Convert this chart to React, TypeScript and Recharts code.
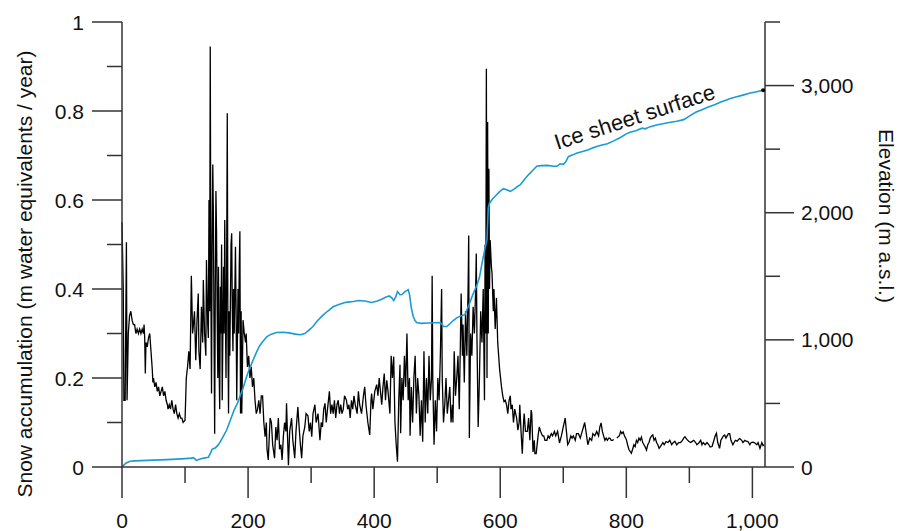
import { LineChart, Line, XAxis, YAxis } from "recharts";

// Snow accumulation (left axis) and ice sheet surface elevation (right axis)
// against age.
const AXIS = "#333";
const BLUE = "#1b9ad6";
const FONT = "'Liberation Sans', Arial, Helvetica, sans-serif";
const FS = 21;

const xTicks = [0, 100, 200, 300, 400, 500, 600, 700, 800, 900, 1000];
const snowTicks = [0, 0.1, 0.2, 0.3, 0.4, 0.5, 0.6, 0.7, 0.8, 0.9, 1];
const elevTicks = [0, 500, 1000, 1500, 2000, 2500, 3000, 3500];

const snowYears = [
  0, 2, 3, 5, 7, 8, 10, 12, 14, 16,
  18, 20, 22, 24, 26, 28, 30, 32, 34, 35,
  36, 37, 38, 40, 42, 44, 46, 48, 49, 50,
  52, 54, 56, 58, 60, 62, 64, 66, 68, 70,
  72, 73, 75, 77, 79, 81, 83, 85, 87, 89,
  91, 93, 95, 97, 100, 102, 104, 106, 108, 110,
  112, 113, 115, 117, 119, 121, 122, 124, 126, 128,
  129, 131, 133, 134, 136, 137, 138, 139, 140, 141,
  142, 143, 144, 145, 146, 147, 148, 149, 150, 151,
  152, 153, 154, 155, 156, 157, 158, 159, 161, 162,
  163, 164, 165, 166, 167, 168, 169, 170, 171, 173,
  174, 175, 176, 177, 178, 180, 181, 182, 184, 185,
  186, 187, 188, 189, 190, 192, 194, 196, 197, 199,
  201, 203, 205, 207, 209, 211, 213, 215, 217, 219,
  221, 223, 225, 227, 229, 230, 232, 234, 235, 237,
  239, 242, 244, 246, 248, 250, 252, 254, 256, 258,
  260, 261, 263, 264, 266, 268, 269, 271, 274, 276,
  279, 281, 283, 285, 287, 290, 292, 295, 297, 299,
  301, 303, 306, 308, 311, 314, 316, 318, 320, 322,
  324, 326, 329, 331, 333, 335, 337, 339, 341, 343,
  345, 347, 349, 351, 353, 356, 358, 360, 362, 364,
  366, 368, 370, 373, 375, 377, 380, 383, 385, 387,
  390, 393, 395, 396, 398, 401, 404, 406, 408, 410,
  412, 414, 416, 418, 420, 422, 425, 427, 429, 431,
  433, 435, 437, 439, 441, 442, 444, 446, 448, 450,
  452, 454, 456, 457, 459, 461, 463, 465, 467, 469,
  471, 473, 475, 477, 479, 481, 483, 485, 487, 489,
  491, 492, 493, 495, 497, 499, 501, 503, 505, 507,
  508, 510, 512, 514, 516, 518, 520, 522, 524, 525,
  527, 529, 531, 533, 535, 537, 538, 540, 541, 543,
  545, 547, 549, 550, 551, 553, 555, 557, 559, 561,
  562, 563, 565, 567, 569, 571, 573, 575, 576, 577,
  578, 579, 580, 581, 582, 583, 584, 586, 587, 589,
  590, 592, 594, 596, 597, 599, 602, 604, 606, 608,
  610, 612, 614, 616, 617, 619, 621, 623, 626, 628,
  630, 631, 633, 635, 637, 638, 640, 643, 645, 647,
  649, 650, 652, 654, 655, 657, 660, 662, 664, 667,
  669, 671, 674, 676, 678, 681, 683, 686, 688, 691,
  694, 697, 700, 703, 705, 707, 709, 712, 714, 716,
  719, 721, 724, 727, 730, 732, 734, 737, 739, 742,
  745, 747, 750, 753, 756, 758, 760, 762, 764, 766,
  768, 770, 772, 774, 776, 778, 780, 782, 785, 787,
  789, 791, 793, 795, 797, 800, 802, 804, 806, 808,
  810, 812, 814, 816, 818, 820, 822, 824, 826, 828,
  830, 832, 834, 836, 838, 840, 842, 844, 846, 848,
  850, 852, 854, 856, 858, 860, 863, 866, 869, 872,
  874, 877, 880, 883, 886, 889, 891, 893, 896, 899,
  902, 904, 907, 910, 912, 915, 918, 920, 922, 925,
  928, 931, 933, 936, 939, 941, 943, 945, 948, 950,
  952, 954, 956, 958, 960, 962, 964, 966, 969, 971,
  973, 976, 978, 980, 983, 985, 988, 990, 993, 996,
  998, 1001, 1004, 1007, 1009, 1012, 1015, 1017, 1019,
];

const snowAcc = [
  0.55, 0.4, 0.15, 0.15, 0.505, 0.15, 0.3, 0.34, 0.35, 0.33,
  0.32, 0.32, 0.3, 0.31, 0.3, 0.31, 0.3, 0.31, 0.3, 0.32,
  0.29, 0.21, 0.28, 0.27, 0.29, 0.3, 0.26, 0.22, 0.19, 0.2,
  0.18, 0.19, 0.17, 0.18, 0.16, 0.17, 0.18, 0.16, 0.17, 0.15,
  0.14, 0.13, 0.14, 0.13, 0.15, 0.13, 0.12, 0.14, 0.12, 0.11,
  0.12, 0.11, 0.11, 0.1, 0.105, 0.2, 0.225, 0.26, 0.22, 0.43,
  0.3, 0.315, 0.35, 0.24, 0.33, 0.39, 0.26, 0.22, 0.36, 0.28,
  0.42, 0.3, 0.25, 0.465, 0.32, 0.29, 0.6, 0.35, 0.945, 0.4,
  0.165, 0.5, 0.68, 0.56, 0.3, 0.075, 0.4, 0.62, 0.525, 0.35,
  0.2, 0.45, 0.23, 0.13, 0.405, 0.3, 0.5, 0.15, 0.45, 0.3,
  0.555, 0.35, 0.2, 0.45, 0.795, 0.3, 0.12, 0.35, 0.25, 0.5,
  0.525, 0.35, 0.26, 0.4, 0.3, 0.495, 0.35, 0.15, 0.4, 0.3,
  0.45, 0.53, 0.12, 0.35, 0.12, 0.33, 0.3, 0.28, 0.3, 0.225,
  0.25, 0.2, 0.225, 0.18, 0.2, 0.15, 0.12, 0.13, 0.15, 0.12,
  0.16, 0.16, 0.1, 0.068, 0.1, 0.04, 0.016, 0.08, 0.11, 0.1,
  0.05, 0.02, 0.09, 0.06, 0.11, 0.04, 0.05, 0.016, 0.07, 0.1,
  0.08, 0.143, 0.05, 0.004, 0.08, 0.1, 0.11, 0.06, 0.02, 0.08,
  0.135, 0.09, 0.05, 0.02, 0.07, 0.09, 0.12, 0.115, 0.08, 0.1,
  0.068, 0.12, 0.14, 0.1, 0.12, 0.06, 0.1, 0.09, 0.13, 0.143,
  0.1, 0.13, 0.17, 0.12, 0.14, 0.12, 0.15, 0.11, 0.14, 0.15,
  0.12, 0.14, 0.12, 0.13, 0.16, 0.15, 0.13, 0.14, 0.11, 0.15,
  0.13, 0.16, 0.14, 0.12, 0.17, 0.14, 0.12, 0.16, 0.18, 0.14,
  0.1, 0.072, 0.15, 0.165, 0.13, 0.17, 0.185, 0.16, 0.2, 0.17,
  0.14, 0.18, 0.21, 0.15, 0.195, 0.17, 0.12, 0.25, 0.2, 0.248,
  0.1, 0.05, 0.012, 0.15, 0.23, 0.076, 0.2, 0.15, 0.25, 0.18,
  0.3, 0.15, 0.2, 0.07, 0.18, 0.1, 0.2, 0.25, 0.12, 0.2,
  0.16, 0.07, 0.15, 0.057, 0.26, 0.1, 0.2, 0.12, 0.25, 0.15,
  0.2, 0.43, 0.2, 0.05, 0.15, 0.08, 0.2, 0.15, 0.25, 0.4,
  0.2, 0.1, 0.14, 0.2, 0.12, 0.15, 0.18, 0.1, 0.14, 0.1,
  0.26, 0.16, 0.2, 0.25, 0.13, 0.3, 0.39, 0.25, 0.32, 0.19,
  0.35, 0.25, 0.4, 0.52, 0.065, 0.3, 0.25, 0.36, 0.3, 0.4,
  0.48, 0.3, 0.09, 0.2, 0.35, 0.28, 0.4, 0.15, 0.5, 0.3,
  0.895, 0.2, 0.775, 0.3, 0.67, 0.4, 0.51, 0.45, 0.435, 0.35,
  0.4, 0.31, 0.38, 0.28, 0.26, 0.22, 0.18, 0.16, 0.147, 0.15,
  0.14, 0.12, 0.15, 0.16, 0.13, 0.14, 0.1, 0.13, 0.11, 0.083,
  0.1, 0.14, 0.08, 0.03, 0.1, 0.12, 0.08, 0.08, 0.11, 0.06,
  0.128, 0.12, 0.034, 0.06, 0.03, 0.03, 0.07, 0.09, 0.08, 0.07,
  0.07, 0.06, 0.06, 0.07, 0.065, 0.075, 0.07, 0.08, 0.07, 0.08,
  0.054, 0.07, 0.09, 0.11, 0.08, 0.05, 0.055, 0.07, 0.065, 0.07,
  0.06, 0.075, 0.075, 0.065, 0.08, 0.09, 0.1, 0.07, 0.05, 0.065,
  0.06, 0.075, 0.07, 0.08, 0.07, 0.09, 0.099, 0.08, 0.07, 0.06,
  0.065, 0.06, 0.065, 0.065, 0.06, 0.06, 0.062, null, 0.065, 0.068,
  0.07, 0.08, 0.075, 0.079, 0.07, 0.062, 0.05, 0.04, 0.035, 0.031,
  0.04, 0.05, 0.046, 0.06, 0.055, 0.065, 0.06, 0.067, 0.055, 0.05,
  0.045, 0.038, 0.05, 0.055, 0.065, 0.07, 0.072, 0.06, 0.065, 0.055,
  0.05, 0.042, 0.046, 0.05, 0.055, 0.05, 0.057, 0.055, 0.06, 0.05,
  0.054, 0.058, 0.05, 0.055, 0.055, 0.06, 0.065, 0.068, 0.062, 0.058,
  0.055, 0.057, 0.06, 0.055, 0.05, 0.054, 0.06, 0.05, 0.055, 0.05,
  0.055, 0.05, 0.045, 0.046, 0.06, 0.07, 0.076, 0.055, 0.042, 0.06,
  0.065, 0.07, 0.072, 0.065, 0.07, 0.075, 0.075, 0.06, 0.05, 0.055,
  0.06, 0.058, 0.062, 0.064, 0.06, 0.055, 0.06, 0.058, 0.057, 0.05,
  0.055, 0.056, 0.054, 0.05, 0.055, 0.042, 0.055, 0.048, 0.05,
];

const elevYears = [
  0, 3, 6, 10, 13, 20, 40, 60, 80, 100,
  110, 113, 116, 118, 121, 125, 130, 135, 137, 140,
  143, 146, 148, 152, 156, 160, 166, 172, 178, 183,
  187, 192, 197, 202, 208, 213, 218, 223, 230, 237,
  245, 255, 265, 275, 283, 290, 296, 303, 310, 318,
  326, 335, 345, 355, 367, 375, 385, 396, 405, 412,
  418, 424, 428, 431, 434, 437, 441, 444, 449, 454,
  456, 459, 462, 465, 468, 475, 485, 495, 505, 510,
  515, 520, 525, 531, 538, 544, 550, 556, 563, 567,
  571, 575, 579, 581, 583, 588, 593, 600, 605, 610,
  616, 622, 627, 632, 638, 645, 651, 658, 665, 675,
  685, 690, 695, 700, 704, 708, 715, 722, 732, 740,
  747, 753, 760, 770, 780, 790, 800, 806, 815, 825,
  830, 838, 848, 858, 868, 880, 891, 900, 910, 920,
  928, 940, 950, 958, 965, 975, 985, 995, 1005, 1017,
];

const elevation = [
  0, 15, 30, 40, 45, 48, 52, 56, 60, 66,
  70, 73, 62, 52, 58, 65, 70, 75, 77, 105,
  140, 148, 150, 170, 200, 235, 291, 370, 450, 500,
  554, 620, 700, 770, 842, 900, 950, 985, 1026, 1045,
  1058, 1060, 1055, 1045, 1040, 1050, 1075, 1105, 1150, 1190,
  1225, 1260, 1280, 1295, 1302, 1310, 1305, 1294, 1305, 1320,
  1335, 1345, 1330, 1310, 1335, 1380, 1355, 1357, 1380, 1394,
  1360, 1250, 1184, 1150, 1134, 1130, 1133, 1135, 1136, 1105,
  1105, 1125, 1150, 1173, 1190, 1197, 1270, 1350, 1430, 1490,
  1600, 1700, 1790, 2040, 2075, 2110, 2135, 2170, 2189, 2180,
  2168, 2185, 2205, 2220, 2260, 2300, 2330, 2365, 2370, 2372,
  2365, 2365, 2385, 2380, 2400, 2441, 2455, 2470, 2483, 2495,
  2510, 2520, 2530, 2543, 2565, 2590, 2620, 2633, 2645, 2665,
  2660, 2677, 2690, 2700, 2710, 2720, 2732, 2760, 2790, 2810,
  2827, 2850, 2870, 2885, 2898, 2912, 2925, 2940, 2950, 2963,
];

const snowData = snowYears.map((x, i) => ({ x, v: snowAcc[i] }));
const elevData = elevYears.map((x, i) => ({ x, e: elevation[i] }));

const txt = { fontFamily: FONT, fontSize: FS, fill: "#111" };

function XTick(props: any) {
  const { x, y, payload } = props;
  const v = payload.value;
  const major = v % 200 === 0;
  return (
    <g>
      <line x1={x} x2={x} y1={y} y2={y + (major ? 31 : 16)} stroke={AXIS} strokeWidth={1.5} />
      {major && (
        <text x={x} y={y + 61} textAnchor="middle" {...txt}>
          {v.toLocaleString("en-US")}
        </text>
      )}
    </g>
  );
}

function LeftTick(props: any) {
  const { x, y, payload } = props;
  const v = payload.value;
  const major = Math.round(v * 10) % 2 === 0;
  const label = v === 0 ? "0" : v === 1 ? "1" : v.toFixed(1);
  return (
    <g>
      <line x1={x - (major ? 30 : 15)} x2={x} y1={y} y2={y} stroke={AXIS} strokeWidth={1.5} />
      {major && (
        <text x={x - 38} y={y + 7.5} textAnchor="end" {...txt}>
          {label}
        </text>
      )}
    </g>
  );
}

function RightTick(props: any) {
  const { x, y, payload } = props;
  const v = payload.value;
  const major = v % 1000 === 0;
  return (
    <g>
      <line x1={x} x2={x + (major ? 29 : 15)} y1={y} y2={y} stroke={AXIS} strokeWidth={1.5} />
      {major && (
        <text x={x + 36} y={y + 7.5} textAnchor="start" {...txt}>
          {v.toLocaleString("en-US")}
        </text>
      )}
    </g>
  );
}

const lastElev = elevData.length - 1;
function EndDot(props: any) {
  const { cx, cy, index } = props;
  if (index !== lastElev) return <g key={index} />;
  return <circle key={index} cx={cx} cy={cy} r={2} fill="#000" />;
}

export default function App() {
  return (
    <div style={{ position: "absolute", left: 0, top: 0, width: 904, height: 531, background: "#fff" }}>
      <LineChart width={904} height={531} margin={{ top: 22, right: 0, bottom: 0, left: 0 }}>
        <XAxis
          dataKey="x"
          type="number"
          domain={[0, 1020]}
          ticks={xTicks}
          interval={0}
          height={64}
          tickLine={false}
          tickSize={0}
          tickMargin={0}
          axisLine={{ stroke: AXIS, strokeWidth: 1.5 }}
          tick={<XTick />}
          allowDuplicatedCategory={false}
        />
        <YAxis
          yAxisId="left"
          orientation="left"
          type="number"
          domain={[0, 1]}
          ticks={snowTicks}
          interval={0}
          width={122}
          tickLine={false}
          tickSize={0}
          tickMargin={0}
          axisLine={{ stroke: AXIS, strokeWidth: 1.5 }}
          tick={<LeftTick />}
        />
        <YAxis
          yAxisId="right"
          orientation="right"
          type="number"
          domain={[0, 3500]}
          ticks={elevTicks}
          interval={0}
          width={139}
          tickLine={false}
          tickSize={0}
          tickMargin={0}
          axisLine={{ stroke: AXIS, strokeWidth: 1.5 }}
          tick={<RightTick />}
        />
        <Line
          yAxisId="left"
          data={snowData}
          dataKey="v"
          type="linear"
          stroke="#000"
          strokeWidth={1.3}
          dot={false}
          connectNulls={false}
          isAnimationActive={false}
        />
        <Line
          yAxisId="right"
          data={elevData}
          dataKey="e"
          type="linear"
          stroke={BLUE}
          strokeWidth={1.6}
          dot={EndDot}
          isAnimationActive={false}
        />
      </LineChart>
      <svg
        width={904}
        height={531}
        style={{ position: "absolute", left: 0, top: 0, pointerEvents: "none" }}
      >
        <text
          transform="translate(24,274) rotate(-90)"
          textAnchor="middle"
          dominantBaseline="central"
          {...txt}
        >
          Snow accumulation (m water equivalents / year)
        </text>
        <text
          transform="translate(886,216) rotate(90)"
          textAnchor="middle"
          dominantBaseline="central"
          {...txt}
        >
          Elevation (m a.s.l.)
        </text>
        <text
          transform="translate(637,124) rotate(-18)"
          textAnchor="middle"
          {...txt}
          fontSize={22}
        >
          Ice sheet surface
        </text>
      </svg>
    </div>
  );
}
